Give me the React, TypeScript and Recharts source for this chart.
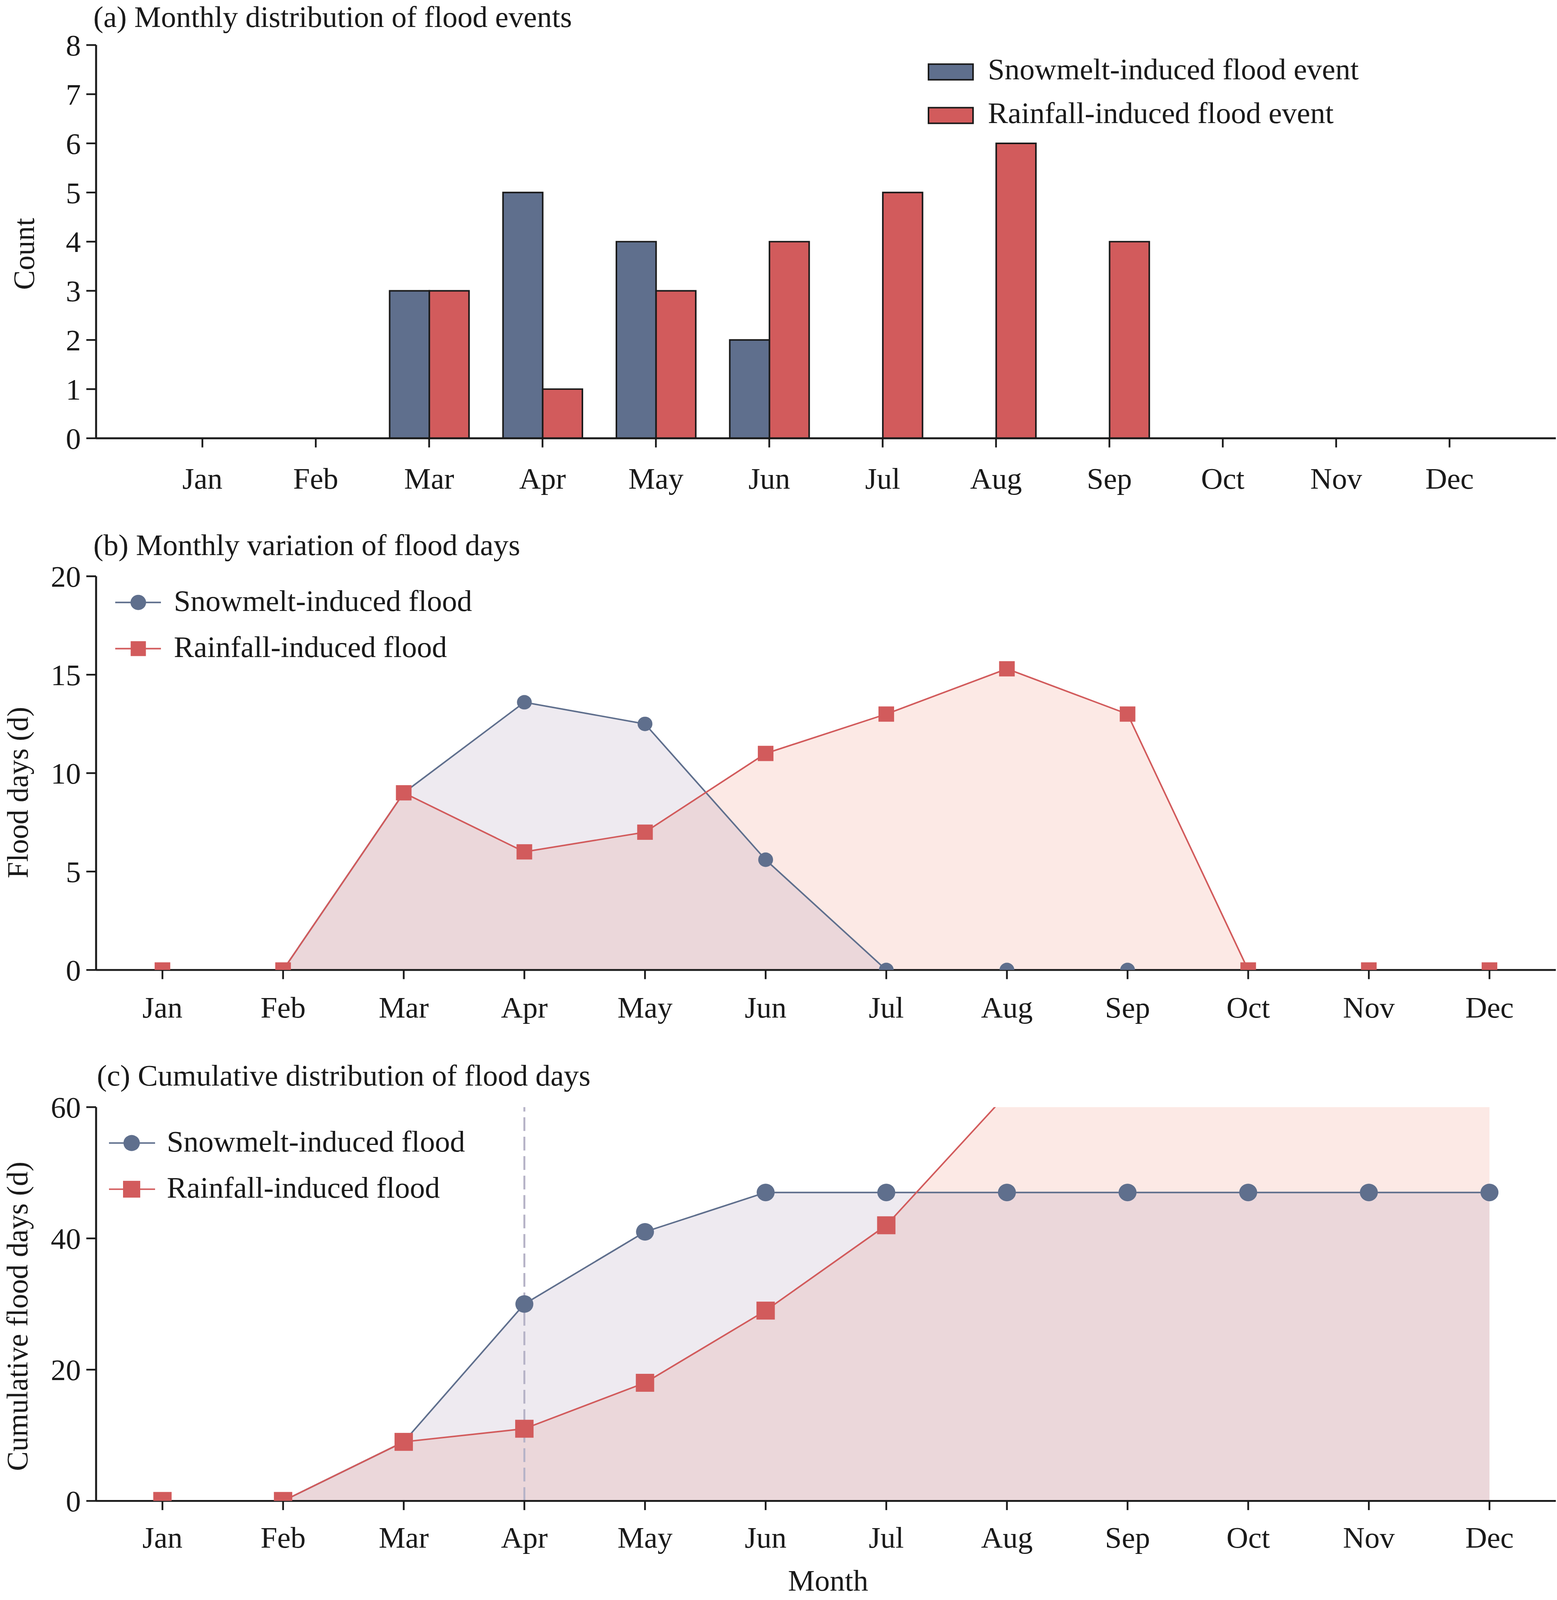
import React from 'react';
import { ComposedChart, Bar, Line, Area, XAxis, YAxis, ReferenceLine } from 'recharts';

// ---- data ----
const months = ['Jan', 'Feb', 'Mar', 'Apr', 'May', 'Jun', 'Jul', 'Aug', 'Sep', 'Oct', 'Nov', 'Dec'];
const monthNums = [1, 2, 3, 4, 5, 6, 7, 8, 9, 10, 11, 12];

// (a) flood events per month
const snowEvents = [0, 0, 3, 5, 4, 2, 0, 0, 0, 0, 0, 0];
const rainEvents = [0, 0, 3, 1, 3, 4, 5, 6, 4, 0, 0, 0];

// (b) flood days per month
const snowDays = [0, 0, 9, 13.6, 12.5, 5.6, 0, 0, 0, 0, 0, 0];
const rainDays = [0, 0, 9, 6, 7, 11, 13, 15.3, 13, 0, 0, 0];

// (c) cumulative flood days
const snowCum = [0, 0, 9, 30, 41, 47, 47, 47, 47, 47, 47, 47];
const rainCum = [0, 0, 9, 11, 18, 29, 42, 62, 75, 75, 75, 75];

const countTicks = [0, 1, 2, 3, 4, 5, 6, 7, 8];
const daysTicks = [0, 5, 10, 15, 20];
const cumTicks = [0, 20, 40, 60];

// ---- style ----
const W = 3986;
const H_ALL = 4191;
const INK = '#1a1a1a';
const BLUE = '#5f6f8d';
const RED = '#d25b5c';
const BLUE_FILL = '#8e739b';
const RED_FILL = '#e86c52';
const FILL_OP = 0.15;
const FONT = '"Liberation Serif", "Times New Roman", serif';
const FS = 77;
const AXIS_W = 5;
const TICK_W = 4.5;
const Y_AXIS_W = 120;
const X_AXIS_H = 150;
const PLOT_LEFT = 246;
const PLOT_RIGHT = 3983;

const tickStyle = { fontSize: FS, fill: INK, fontFamily: FONT };
const axisLine = { stroke: INK, strokeWidth: AXIS_W };
const tickLine = { stroke: INK, strokeWidth: TICK_W };

const barData = months.map((m, i) => ({ month: m, snow: snowEvents[i], rain: rainEvents[i] }));
const dayData = monthNums.map((m, i) => ({ m, snow: snowDays[i], rain: rainDays[i] }));
const cumData = monthNums.map((m, i) => ({ m, snow: snowCum[i], rain: rainCum[i] }));

// marker clipped to the plot box, like matplotlib does
function marker(kind: 'circle' | 'square', size: number, top: number, bottom: number) {
  return (p: any) => {
    const { cx, cy, index } = p;
    if (cx == null || cy == null) return <g key={`e${index}`} />;
    if (kind === 'square') {
      const h = size / 2;
      const y0 = Math.max(cy - h, top);
      const y1 = Math.min(cy + h, bottom);
      if (y1 <= y0) return <g key={`e${index}`} />;
      return <rect key={`s${index}`} x={cx - h} y={y0} width={size} height={y1 - y0} fill={RED} />;
    }
    const r = size;
    const d = bottom - cy;
    if (d >= r) return <circle key={`c${index}`} cx={cx} cy={cy} r={r} fill={BLUE} />;
    if (d <= -r) return <g key={`e${index}`} />;
    const w = Math.sqrt(r * r - d * d);
    return (
      <path
        key={`c${index}`}
        d={`M${cx - w},${bottom} A${r},${r} 0 ${d > 0 ? 1 : 0} 1 ${cx + w},${bottom} Z`}
        fill={BLUE}
      />
    );
  };
}

function Frame() {
  return [
    <XAxis key="xt" xAxisId="top" orientation="top" height={0} tick={false} tickLine={false} axisLine={axisLine} />,
    <YAxis key="yr" yAxisId="right" orientation="right" width={0} tick={false} tickLine={false} axisLine={axisLine} />,
  ];
}

function PanelA() {
  const H = 1340;
  const top = 118;
  const bottom = 1148;
  return (
    <div style={{ position: 'absolute', left: 0, top: 0 }}>
      <ComposedChart
        width={W}
        height={H}
        data={barData}
        barGap={0}
        margin={{ top, left: PLOT_LEFT - Y_AXIS_W, right: W - PLOT_RIGHT, bottom: H - bottom - X_AXIS_H }}
      >
        <XAxis
          dataKey="month"
          interval={0}
          height={X_AXIS_H}
          padding={{ left: 127, right: 127 }}
          tick={tickStyle}
          tickSize={24}
          tickMargin={53}
          axisLine={axisLine}
          tickLine={tickLine}
        />
        <YAxis
          domain={[0, 8]}
          ticks={countTicks}
          width={Y_AXIS_W}
          tick={tickStyle}
          tickSize={25}
          tickMargin={14}
          axisLine={axisLine}
          tickLine={tickLine}
        />
        {Frame()}
        <Bar dataKey="snow" barSize={101.6} fill={BLUE} stroke={INK} strokeWidth={4} isAnimationActive={false} />
        <Bar dataKey="rain" barSize={101.6} fill={RED} stroke={INK} strokeWidth={4} isAnimationActive={false} />
      </ComposedChart>
    </div>
  );
}

function LinePanel(props: {
  offset: number;
  H: number;
  top: number;
  bottom: number;
  data: any[];
  yMax: number;
  yTicks: number[];
  r: number;
  sq: number;
  lw: number;
  tickMargin: number;
  aprLine?: boolean;
}) {
  const { offset, H, top, bottom, data, yMax, yTicks, r, sq, lw, tickMargin, aprLine } = props;
  return (
    <div style={{ position: 'absolute', left: 0, top: offset }}>
      <ComposedChart
        width={W}
        height={H}
        data={data}
        margin={{ top, left: PLOT_LEFT - Y_AXIS_W, right: W - PLOT_RIGHT, bottom: H - bottom - X_AXIS_H }}
      >
        <XAxis
          dataKey="m"
          type="number"
          domain={[0.45, 12.55]}
          allowDataOverflow
          ticks={monthNums}
          interval={0}
          tickFormatter={(v: number) => months[v - 1]}
          height={X_AXIS_H}
          tick={tickStyle}
          tickSize={24}
          tickMargin={tickMargin}
          axisLine={axisLine}
          tickLine={tickLine}
        />
        <YAxis
          domain={[0, yMax]}
          allowDataOverflow
          ticks={yTicks}
          width={Y_AXIS_W}
          tick={tickStyle}
          tickSize={25}
          tickMargin={14}
          axisLine={axisLine}
          tickLine={tickLine}
        />
        {Frame()}
        <Area
          dataKey="rain"
          type="linear"
          stroke="none"
          fill={RED_FILL}
          fillOpacity={FILL_OP}
          dot={false}
          activeDot={false}
          isAnimationActive={false}
        />
        <Area
          dataKey="snow"
          type="linear"
          stroke="none"
          fill={BLUE_FILL}
          fillOpacity={FILL_OP}
          dot={false}
          activeDot={false}
          isAnimationActive={false}
        />
        {aprLine && (
          <ReferenceLine x={4} stroke="#b6b3c7" strokeWidth={5} strokeDasharray="36 15" />
        )}
        <Line
          dataKey="snow"
          type="linear"
          stroke={BLUE}
          strokeWidth={lw}
          dot={marker('circle', r, top, bottom)}
          activeDot={false}
          isAnimationActive={false}
        />
        <Line
          dataKey="rain"
          type="linear"
          stroke={RED}
          strokeWidth={lw}
          dot={marker('square', sq, top, bottom)}
          activeDot={false}
          isAnimationActive={false}
        />
      </ComposedChart>
    </div>
  );
}

function LineLegend(props: { x0: number; x1: number; cx: number; y: number; tx: number; r: number; sq: number }) {
  const { x0, x1, cx, y, tx, r, sq } = props;
  const y2 = y + 121;
  return (
    <g>
      <line x1={x0} x2={x1} y1={y} y2={y} stroke={BLUE} strokeWidth={4} />
      <circle cx={cx} cy={y} r={r} fill={BLUE} />
      <text x={tx} y={y + 22} fontSize={FS} fontFamily={FONT} fill={INK}>Snowmelt-induced flood</text>
      <line x1={x0} x2={x1} y1={y2} y2={y2} stroke={RED} strokeWidth={4} />
      <rect x={cx - sq / 2} y={y2 - sq / 2} width={sq} height={sq} fill={RED} />
      <text x={tx} y={y2 + 22} fontSize={FS} fontFamily={FONT} fill={INK}>Rainfall-induced flood</text>
    </g>
  );
}

function Overlay() {
  const t = { fontSize: FS, fontFamily: FONT, fill: INK };
  return (
    <svg
      width={W}
      height={H_ALL}
      style={{ position: 'absolute', left: 0, top: 0, pointerEvents: 'none' }}
    >
      <text x={239} y={71} {...t}>(a) Monthly distribution of flood events</text>
      <text x={239} y={1454} {...t}>(b) Monthly variation of flood days</text>
      <text x={248} y={2843} {...t}>(c) Cumulative distribution of flood days</text>

      <text x={87} y={665} textAnchor="middle" transform="rotate(-90 87 665)" {...t}>Count</text>
      <text x={71} y={2076} textAnchor="middle" transform="rotate(-90 71 2076)" {...t}>Flood days (d)</text>
      <text x={70} y={3448} textAnchor="middle" transform="rotate(-90 70 3448)" {...t}>Cumulative flood days (d)</text>
      <text x={2120} y={4166} textAnchor="middle" {...t}>Month</text>

      <rect x={2377} y={168} width={114} height={41} fill={BLUE} stroke={INK} strokeWidth={4} />
      <text x={2529} y={208} {...t}>Snowmelt-induced flood event</text>
      <rect x={2377} y={282} width={114} height={41} fill={RED} stroke={INK} strokeWidth={4} />
      <text x={2529} y={322} {...t}>Rainfall-induced flood event</text>

      <LineLegend x0={295} x1={412} cx={354} y={1578} tx={445} r={20} sq={39} />
      <LineLegend x0={279} x1={397} cx={337} y={2994} tx={427} r={21} sq={44} />
    </svg>
  );
}

export default function App() {
  // the visible page can be a little shorter than the window; squeeze the figure to fit
  const vh = typeof window !== 'undefined' ? window.innerHeight : H_ALL;
  const sy = vh > 0 && vh < H_ALL ? vh / H_ALL : 1;
  return (
    <div
      style={{
        position: 'absolute',
        left: 0,
        top: 0,
        width: W,
        height: H_ALL,
        background: '#fff',
        overflow: 'hidden',
        transform: `scale(1, ${sy})`,
        transformOrigin: '0 0',
      }}
    >
      <PanelA />
      <LinePanel
        offset={1380}
        H={1360}
        top={129.5}
        bottom={1160.7}
        data={dayData}
        yMax={20}
        yTicks={daysTicks}
        r={19}
        sq={40}
        lw={4}
        tickMargin={46}
      />
      <LinePanel
        offset={2780}
        H={1411}
        top={120}
        bottom={1151.5}
        data={cumData}
        yMax={60}
        yTicks={cumTicks}
        r={23}
        sq={47}
        lw={4}
        tickMargin={44}
        aprLine
      />
      <Overlay />
    </div>
  );
}
